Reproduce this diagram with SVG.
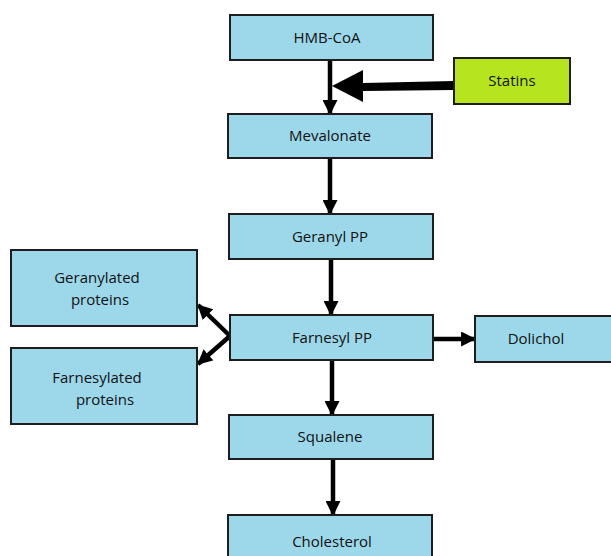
<svg xmlns="http://www.w3.org/2000/svg" width="611" height="556" viewBox="0 0 611 556">
<defs>
<style>
.box{fill:#9cd8ea;stroke:#1e1e1e;stroke-width:2}
.green{fill:#b6e51f;stroke:#1e1e1e;stroke-width:2}
.t{font-family:"Open Sans","Noto Sans",sans-serif;font-size:15px;fill:#111;text-anchor:middle}
.ln{stroke:#000;stroke-width:4.5;fill:none}
</style>
<marker id="ah" markerUnits="userSpaceOnUse" viewBox="0 0 14 14" refX="13" refY="7" markerWidth="15" markerHeight="15" orient="auto">
<path d="M0,0 L14,7 L0,14 Z" fill="#000"/>
</marker>
</defs>
<rect width="611" height="556" fill="#fff"/>
<g id="connectors">
<line class="ln" x1="330" y1="60" x2="330" y2="114" marker-end="url(#ah)"/>
<line class="ln" x1="330" y1="158" x2="330" y2="214" marker-end="url(#ah)"/>
<line class="ln" x1="331" y1="259" x2="331" y2="315" marker-end="url(#ah)"/>
<line class="ln" x1="332" y1="360" x2="332" y2="415" marker-end="url(#ah)"/>
<line class="ln" x1="333" y1="459" x2="333" y2="515" marker-end="url(#ah)"/>
<line class="ln" x1="433" y1="339" x2="475" y2="339" marker-end="url(#ah)"/>
<line class="ln" x1="230" y1="336" x2="198" y2="305" marker-end="url(#ah)"/>
<line class="ln" x1="230" y1="336" x2="198" y2="364" marker-end="url(#ah)"/>
<path d="M454,81 L363,83 L363,70 L332,86 L363,102 L363,91 L454,90 Z" fill="#000"/>
</g>
<g id="hmb-coa"><rect class="box" x="230" y="15" width="203" height="45"/><text class="t" x="327" y="43">HMB-CoA</text></g>
<g id="statins"><rect class="green" x="454" y="58" width="116" height="46"/><text class="t" x="512" y="86">Statins</text></g>
<g id="mevalonate"><rect class="box" x="228" y="114" width="204" height="44"/><text class="t" x="330" y="141">Mevalonate</text></g>
<g id="geranyl-pp"><rect class="box" x="229" y="214" width="204" height="45"/><text class="t" x="330" y="242">Geranyl PP</text></g>
<g id="farnesyl-pp"><rect class="box" x="230" y="315" width="203" height="45"/><text class="t" x="332" y="343">Farnesyl PP</text></g>
<g id="dolichol"><rect class="box" x="475" y="316" width="140" height="46"/><text class="t" x="536" y="344">Dolichol</text></g>
<g id="geranylated-proteins"><rect class="box" x="11" y="250" width="186" height="76"/><text class="t" x="97" y="283">Geranylated</text><text class="t" x="100" y="305">proteins</text></g>
<g id="farnesylated-proteins"><rect class="box" x="11" y="348" width="186" height="76"/><text class="t" x="97" y="383">Farnesylated</text><text class="t" x="105" y="405">proteins</text></g>
<g id="squalene"><rect class="box" x="229" y="415" width="204" height="44"/><text class="t" x="330" y="442">Squalene</text></g>
<g id="cholesterol"><rect class="box" x="228" y="515" width="204" height="50"/><text class="t" x="332" y="547">Cholesterol</text></g>
</svg>
